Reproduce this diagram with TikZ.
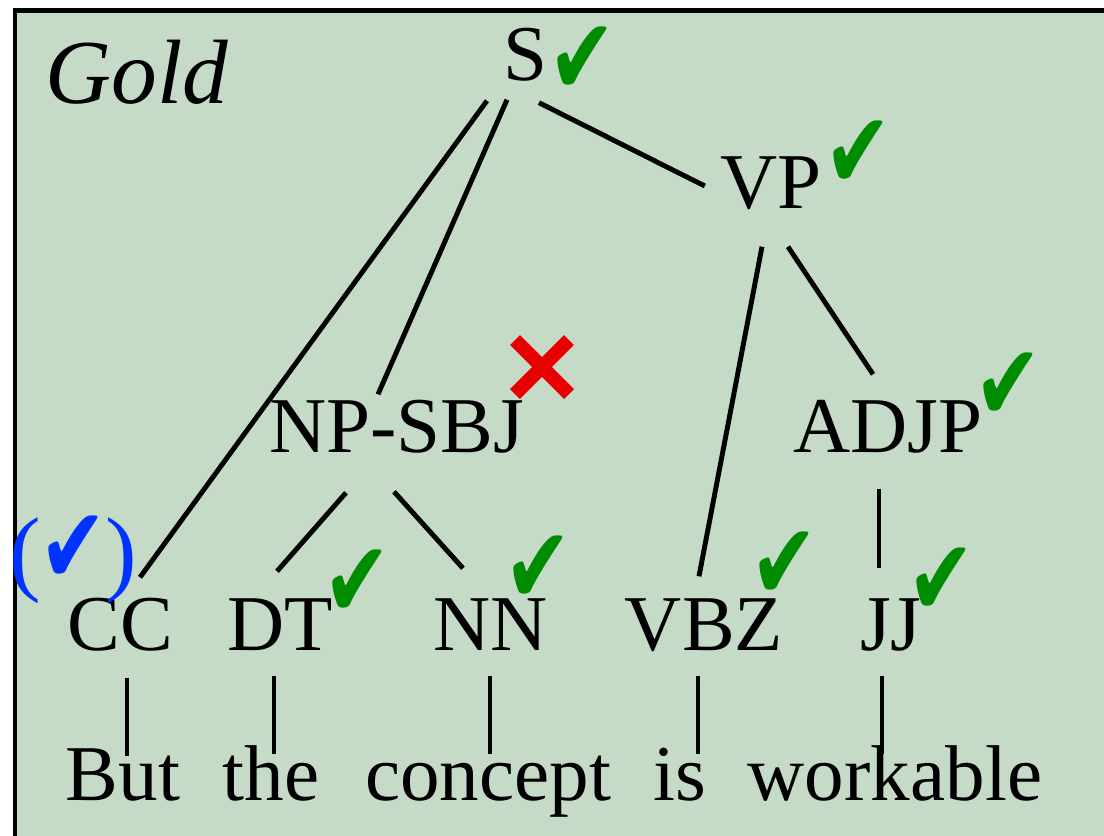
\documentclass[tikz,border=0pt]{standalone}
\usepackage{fontspec}
\setmainfont{Liberation Serif}
\newfontfamily\dejavu{DejaVu Sans}
\usepackage{graphicx}
\usepackage{tikz}
\usetikzlibrary{positioning,calc}
\definecolor{boxgreen}{RGB}{197,218,199}
\definecolor{okgreen}{RGB}{0,140,0}
\definecolor{badred}{RGB}{232,0,0}
\definecolor{partblue}{RGB}{0,51,255}
\tikzset{
  cat/.style      = {anchor=base, inner sep=0pt, text height=5.2mm, text depth=0pt,
                     font=\fontsize{22.5}{27}\selectfont},
  word/.style     = {anchor=base, inner sep=0pt, text height=5.4mm, text depth=1.5mm,
                     font=\fontsize{22.5}{27}\selectfont},
  branch/.style   = {line width=1.4pt},
  okmark/.style   = {inner sep=0pt, text=okgreen},
  badmark/.style  = {badred, line width=4pt},
  partmark/.style = {inner sep=0pt, text=partblue, font=\fontsize{27}{27}\selectfont}
}
% a tall, heavy tick
\newcommand{\Tick}{{\dejavu\fontsize{25}{25}\selectfont\scalebox{0.92}[1.22]{✔}}}

\begin{document}
\begin{tikzpicture}[x=0.1mm,y=-0.1mm]
    \useasboundingbox (0,0) rectangle (1104,836);
    % green panel with its black frame
    \draw[line width=1.4pt, fill=boxgreen] (15,10.5) rectangle (1130,860);
    \node[anchor=base, inner sep=0pt, font=\itshape\fontsize{26}{30}\selectfont] (gold) at (137,103) {Gold};

    % constituents
    \node[cat] (s)    at (525,80)  {S};
    \node[cat] (vp)   at (771,208) {VP};
    \node[cat] (np)   at (397,452) {NP-SBJ};
    \node[cat] (adjp) at (888,452) {ADJP};
    \node[cat] (cc)   at (120,650) {CC};
    \node[cat] (dt)   at (280,650) {DT};
    \node[cat] (nn)   at (491,650) {NN};
    \node[cat] (vbz)  at (704,650) {VBZ};
    \node[cat] (jj)   at (891,650) {JJ};

    % the sentence
    \node[word] (but)      at (123,800) {But};
    \node[word] (the)      at (271,800) {the};
    \node[word] (concept)  at (488,800) {concept};
    \node[word] (is)       at (680,800) {is};
    \node[word] (workable) at (895,800) {workable};

    % branches
    \draw[branch] ($(s.south)+(-38,20)$)   -- ($(cc.north)+(20,-20)$);
    \draw[branch] ($(s.south)+(-18,19)$)   -- ($(np.north)+(-19,-5)$);
    \draw[branch] ($(s.south)+(14,22)$)    -- ($(vp.west)+(-15,4)$);
    \draw[branch] ($(vp.south)+(-9,38)$)   -- ($(vbz.north)+(-5,-21)$);
    \draw[branch] ($(vp.south)+(17,38)$)   -- ($(adjp.north)+(-15,-25)$);
    \draw[branch] ($(np.south)+(-51,40)$)  -- ($(dt.north)+(-3,-26)$);
    \draw[branch] ($(np.south)+(-3,39)$)   -- ($(nn.north)+(-28,-29)$);
    \draw[branch] ($(adjp.south)+(-9,36)$) -- ($(jj.north)+(-12,-29)$);
    \draw[branch] ($(cc.south)+(7,27)$)    -- ($(but.north)+(4,11)$);
    \draw[branch] ($(dt.south)+(-6,25)$)   -- ($(the.north)+(3,9)$);
    \draw[branch] ($(nn.south)+(-1,25)$)   -- ($(concept.north)+(2,9)$);
    \draw[branch] ($(vbz.south)+(-6,25)$)  -- ($(is.north)+(18,9)$);
    \draw[branch] ($(jj.south)+(-9,25)$)   -- ($(workable.north)+(-13,9)$);

    % marks
    \node[okmark]   (s-ok)    at (582,61)  {\Tick};
    \node[okmark]   (vp-ok)   at (858,155) {\Tick};
    \node[okmark]   (adjp-ok) at (1008,387) {\Tick};
    \node[okmark]   (dt-ok)   at (357,584) {\Tick};
    \node[okmark]   (nn-ok)   at (538,570) {\Tick};
    \node[okmark]   (vbz-ok)  at (784,566) {\Tick};
    \node[okmark]   (jj-ok)   at (941,582) {\Tick};
    \coordinate (np-bad) at (542,367);
    \draw[badmark] ($(np-bad)+(-27,-27)$) -- ($(np-bad)+(27,27)$);
    \draw[badmark] ($(np-bad)+(-27,27)$)  -- ($(np-bad)+(27,-27)$);
    \node[partmark] (cc-part) at (73,560)  {(\kern-0.5pt\Tick\kern-0.5pt)};
\end{tikzpicture}
\end{document}
